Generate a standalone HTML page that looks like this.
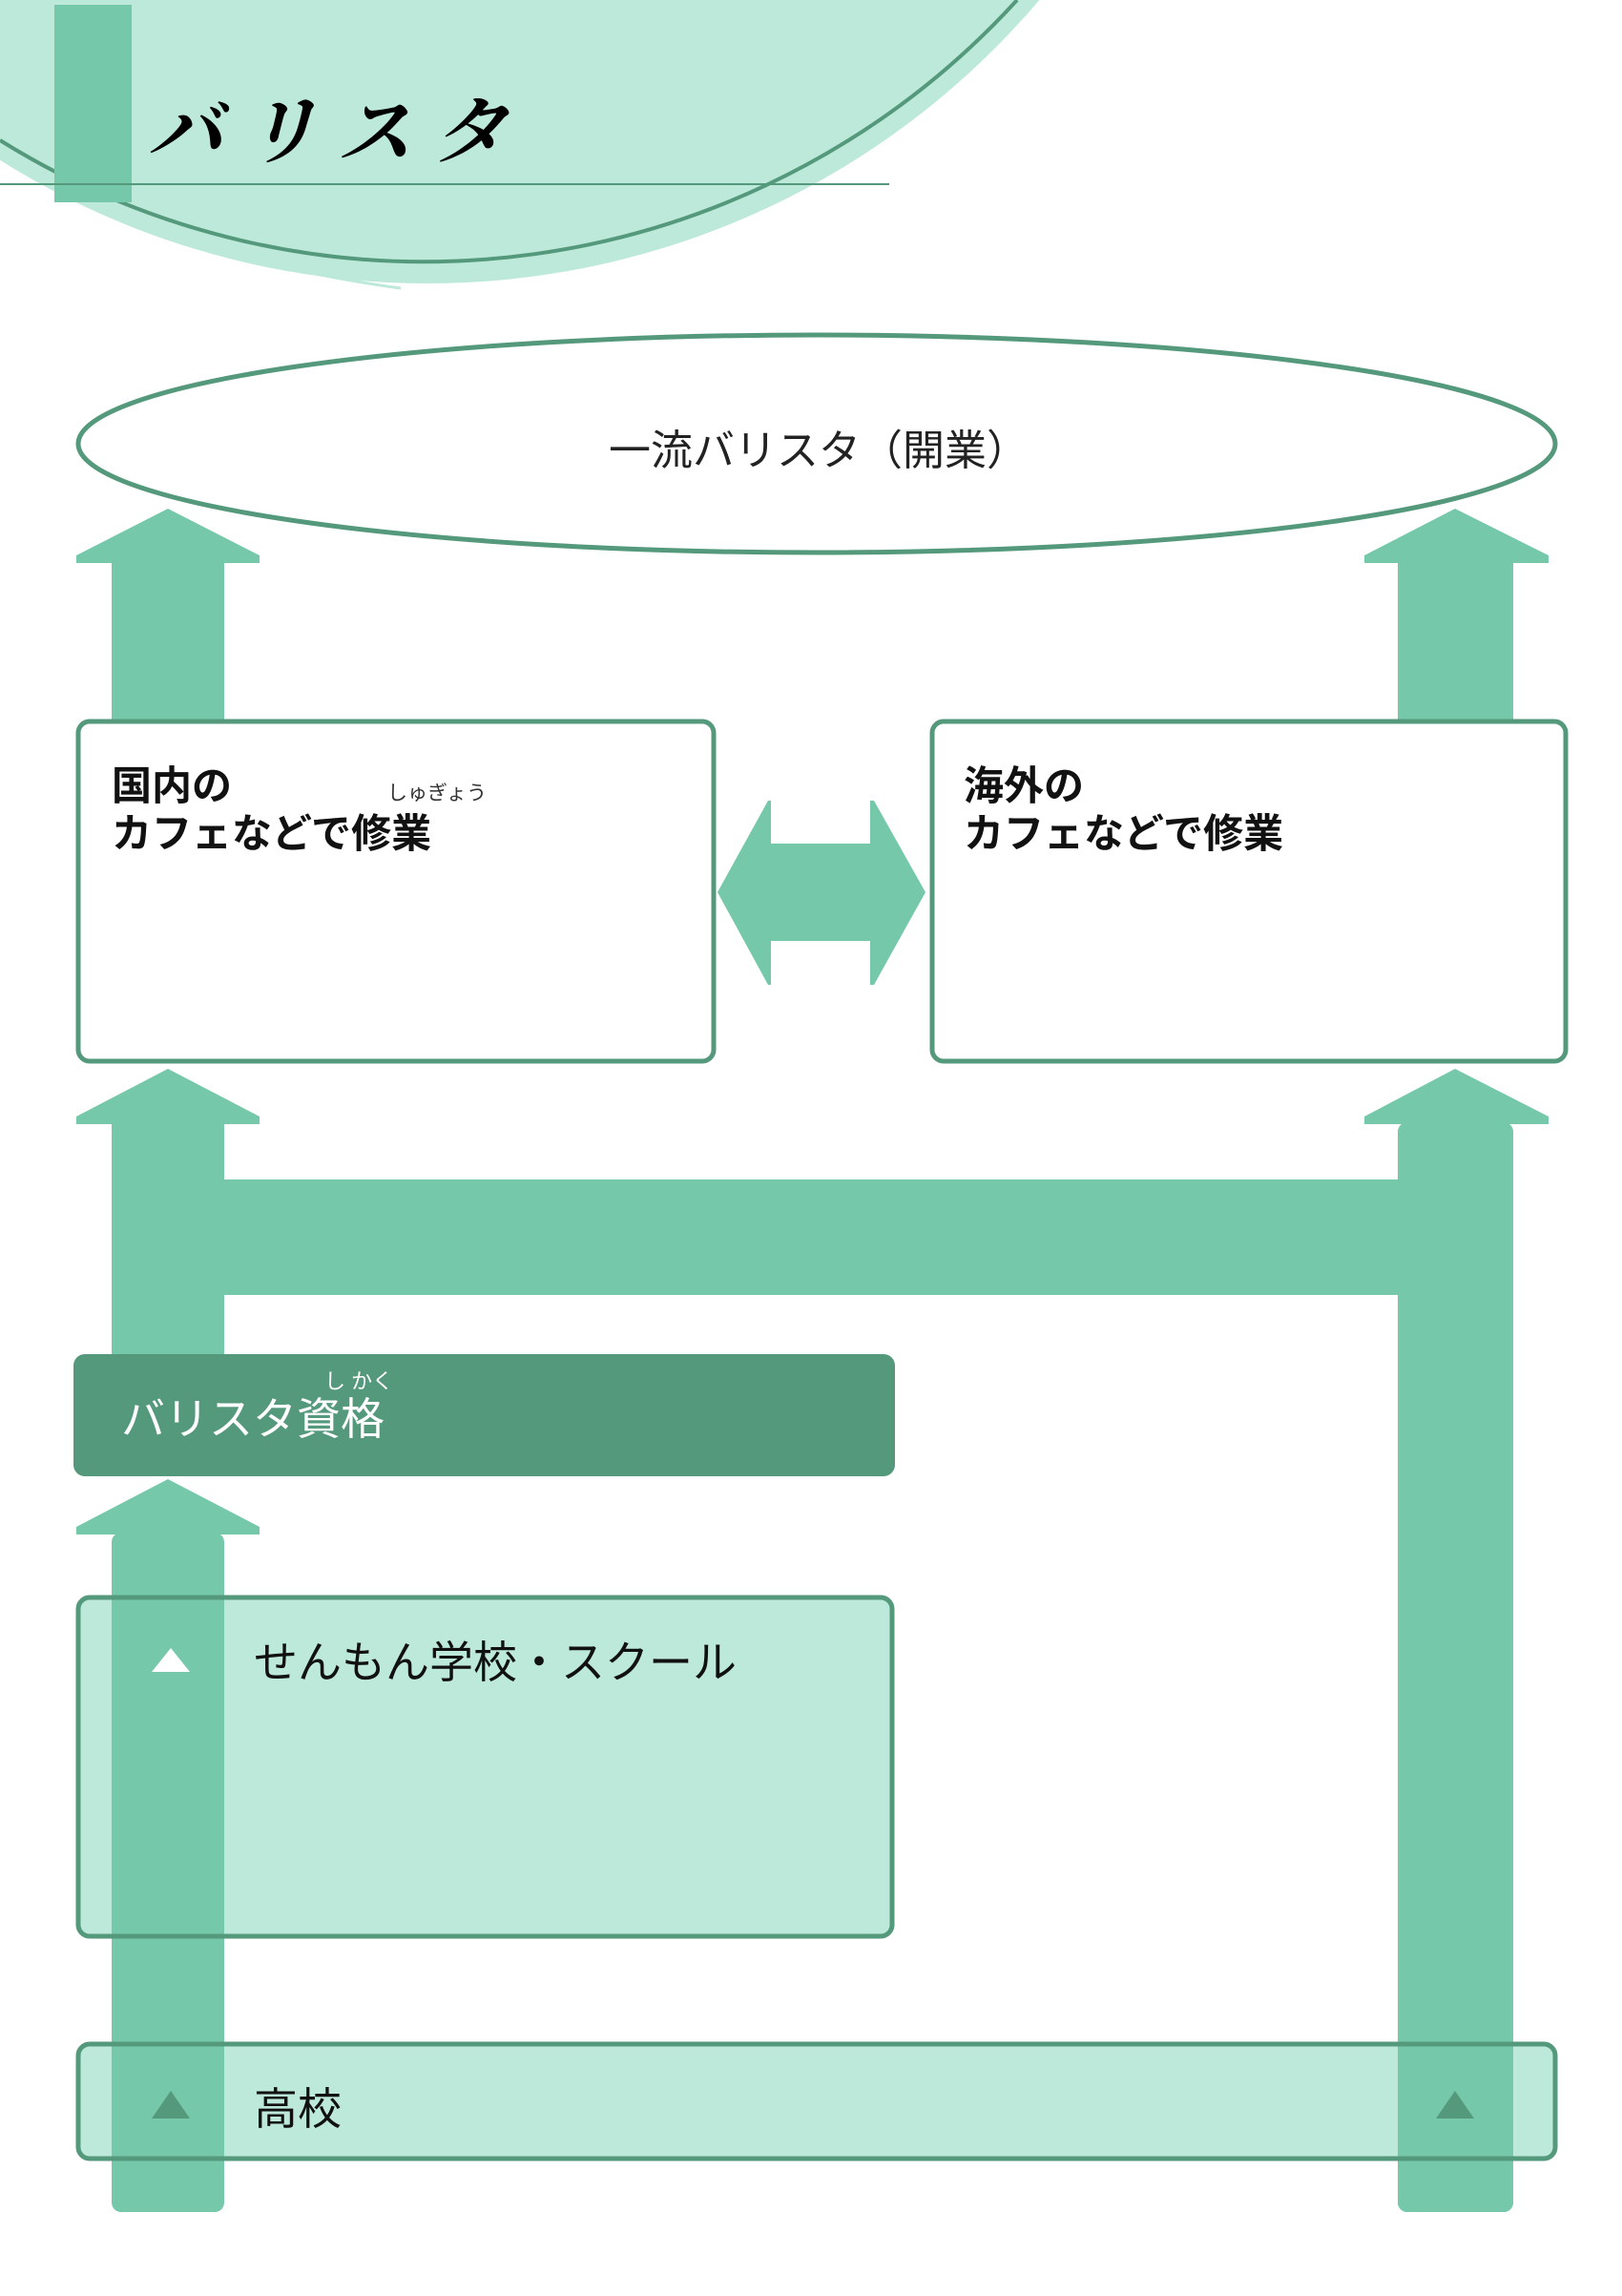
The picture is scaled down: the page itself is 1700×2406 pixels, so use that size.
<!DOCTYPE html>
<html><head><meta charset="utf-8"><style>
html,body{margin:0;padding:0;background:#fff;}
svg{display:block;}
text{font-family:"Liberation Sans","Noto Sans CJK JP",sans-serif;}
</style></head><body>
<svg width="1700" height="2406" viewBox="0 0 1700 2406" xmlns="http://www.w3.org/2000/svg">
<!-- header -->
<circle cx="448" cy="-544" r="841" fill="#bde9da"/>
<path d="M0,147 A841,841 0 0 0 1066,0" fill="none" stroke="#55997d" stroke-width="4"/>
<path d="M0,160 Q180,270 420,302" fill="none" stroke="#bde9da" stroke-width="3"/>
<rect x="57" y="5" width="81" height="207" fill="#76c8aa"/>
<rect x="0" y="192" width="932" height="2" fill="#55997d"/>
<text x="155" y="165" font-size="78" font-style="italic" font-weight="bold" letter-spacing="22" fill="#000" style="font-family:'Noto Serif CJK SC','Liberation Serif',serif">バリスタ</text>

<!-- ellipse -->
<ellipse cx="856" cy="465" rx="774" ry="114" fill="#fff" stroke="#55997d" stroke-width="5"/>
<text x="858" y="487" font-size="44" text-anchor="middle" fill="#222">一流バリスタ（開業）</text>

<!-- top arrows -->
<g fill="#76c8aa">
<rect x="117" y="588" width="118" height="168"/>
<polygon points="176,533 272,582 272,590 80,590 80,582"/>
<rect x="1465" y="588" width="121" height="168"/>
<polygon points="1525,533 1623,582 1623,590 1430,590 1430,582"/>
<polygon points="176,1120 272,1170 272,1178 80,1178 80,1170"/>
<polygon points="1525,1120 1623,1170 1623,1178 1430,1178 1430,1170"/>
<rect x="117" y="1176" width="118" height="245"/>
<rect x="1465" y="1176" width="121" height="1142" rx="10"/>
<rect x="235" y="1236" width="1230" height="121"/>
<polygon points="176,1550 272,1600 272,1608 80,1608 80,1600"/>
<polygon points="752,935 805,839 808,839 808,884 912,884 912,839 916,839 970,935 916,1032 912,1032 912,986 808,986 808,1032 805,1032"/>
</g>

<!-- boxes -->
<rect x="82" y="756" width="666" height="356" rx="12" fill="#fff" stroke="#55997d" stroke-width="5"/>
<rect x="977" y="756" width="664" height="356" rx="12" fill="#fff" stroke="#55997d" stroke-width="5"/>
<text x="117" y="838" font-size="42" fill="#111" font-weight="bold">国内の</text>
<text x="406" y="838" font-size="21" fill="#333">しゅぎょう</text>
<text x="117" y="888" font-size="42" fill="#111" font-weight="bold">カフェなどで修業</text>
<text x="1010" y="838" font-size="42" fill="#111" font-weight="bold">海外の</text>
<text x="1010" y="888" font-size="42" fill="#111" font-weight="bold">カフェなどで修業</text>

<!-- qualification -->
<rect x="77" y="1419" width="861" height="128" rx="12" fill="#55997d"/>
<text x="340" y="1455" font-size="22" fill="#fff">し かく</text>
<text x="127" y="1503" font-size="46" fill="#fff">バリスタ資格</text>

<!-- school box -->
<rect x="82" y="1674" width="853" height="355" rx="12" fill="#bde9da"/>
<rect x="82" y="2142" width="1548" height="120" rx="12" fill="#bde9da"/>
<rect x="117" y="1606" width="118" height="712" rx="10" fill="#76c8aa"/>
<rect x="1465" y="2100" width="121" height="218" rx="10" fill="#76c8aa"/>
<rect x="82" y="1674" width="853" height="355" rx="12" fill="none" stroke="#55997d" stroke-width="5"/>
<polygon points="179,1727 199,1752 159,1752" fill="#fff"/>
<text x="266" y="1758" font-size="46" fill="#111">せんもん学校・スクール</text>

<!-- high school -->
<rect x="82" y="2142" width="1548" height="120" rx="12" fill="none" stroke="#55997d" stroke-width="5"/>
<polygon points="179,2191 199,2220 159,2220" fill="#55997d"/>
<polygon points="1525,2191 1545,2220 1505,2220" fill="#55997d"/>
<text x="266" y="2226" font-size="46" fill="#111">高校</text>
</svg>
</body></html>
